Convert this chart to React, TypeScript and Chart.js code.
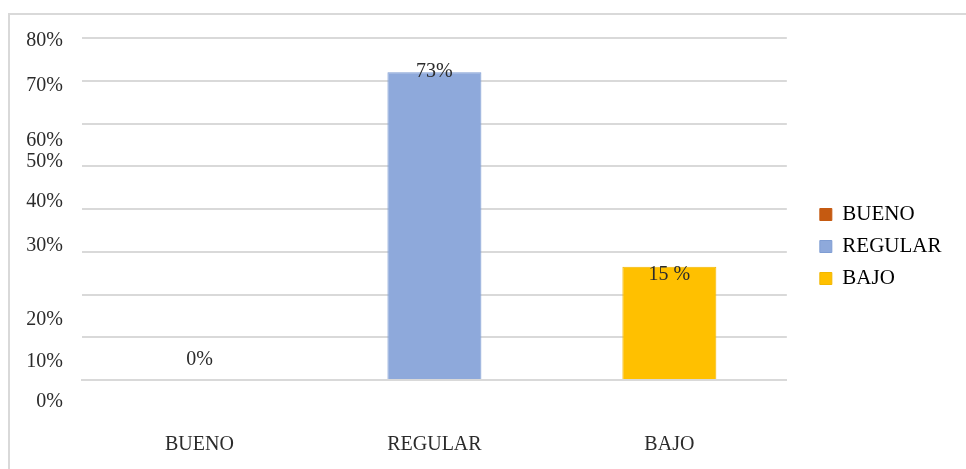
import React, { useEffect, useRef } from "react";
import { Chart, registerables } from "chart.js";

Chart.register(...registerables);

// ---- data ----
const categories = ["BUENO", "REGULAR", "BAJO"];
const values = [0, 72, 26.5];
const valueLabels = ["0%", "73%", "15 %"];
const yTickLabels = ["80%", "70%", "60%", "50%", "40%", "30%", "20%", "10%", "0%"];
const yAxisMin = 0;
const yAxisMax = 80;
const yAxisStep = 10;

// ---- styling / layout ----
const yTickLabelAnchors = [79.3, 68.8, 55.9, 51.0, 41.6, 31.3, 14.0, 4.2, -5.1];
const valueLabelOffsets = [-20, 0, 8];
const barColors = ["#C55A11", "#8EA9DB", "#FFC000"];
const barBorders = ["#C55A11", "#7F9DD3", "#F2B700"];
const FONT = "'Times New Roman', 'Liberation Serif', serif";
const TEXT = "#2b2b2b";
const GRID = "#d9d9d9";

const decorPlugin = {
  id: "decor",
  beforeDraw(chart: any) {
    const ctx = chart.ctx;
    ctx.save();
    ctx.fillStyle = "#ffffff";
    ctx.fillRect(0, 0, chart.width, chart.height);
    ctx.strokeStyle = GRID;
    ctx.lineWidth = 2;
    ctx.beginPath();
    ctx.moveTo(9, chart.height);
    ctx.lineTo(9, 14);
    ctx.lineTo(chart.width, 14);
    ctx.stroke();
    ctx.restore();
  },
  afterDraw(chart: any) {
    const ctx = chart.ctx;
    const ys = chart.scales.y;
    ctx.save();
    ctx.font = `20px ${FONT}`;
    ctx.fillStyle = TEXT;
    ctx.textAlign = "right";
    ctx.textBaseline = "middle";
    yTickLabels.forEach((t, i) => {
      ctx.fillText(t, chart.chartArea.left - 19, ys.getPixelForValue(yTickLabelAnchors[i]));
    });
    ctx.textAlign = "center";
    const meta = chart.getDatasetMeta(0);
    meta.data.forEach((bar: any, i: number) => {
      ctx.fillText(valueLabels[i], bar.x, bar.y + valueLabelOffsets[i]);
    });
    ctx.restore();
  },
};

export default function App() {
  const ref = useRef<HTMLCanvasElement | null>(null);
  useEffect(() => {
    if (!ref.current) return;
    const chart = new Chart(ref.current, {
      type: "bar",
      data: {
        labels: categories,
        datasets: [
          {
            label: "Nivel",
            data: values,
            backgroundColor: barColors,
            borderColor: barBorders,
            borderWidth: 1,
            categoryPercentage: 1,
            barPercentage: 0.4,
          },
        ],
      },
      options: {
        responsive: false,
        animation: false,
        layout: { padding: { left: 82, top: 38, right: 14.5, bottom: 14 } },
        plugins: {
          tooltip: { enabled: false },
          legend: {
            position: "right",
            labels: {
              font: { family: FONT, size: 21 },
              color: TEXT,
              boxWidth: 12,
              boxHeight: 12,
              padding: 11,
              generateLabels: () =>
                categories.map((c, i) => ({
                  text: c,
                  fillStyle: barColors[i],
                  strokeStyle: barBorders[i],
                  lineWidth: 1,
                  hidden: false,
                  index: i,
                  datasetIndex: 0,
                })),
            },
          },
        },
        scales: {
          x: {
            grid: { display: false, drawTicks: false },
            border: { display: true, color: GRID, width: 2 },
            ticks: { font: { family: FONT, size: 20 }, color: TEXT, padding: 53 },
            afterFit: (s: any) => {
              s.height = 75;
            },
          },
          y: {
            min: yAxisMin,
            max: yAxisMax,
            ticks: { stepSize: yAxisStep, display: false },
            grid: { color: GRID, lineWidth: 2, drawTicks: false },
            border: { display: false },
            afterFit: (s: any) => {
              s.width = 0;
            },
          },
          yR: {
            position: "right",
            display: true,
            grid: { display: false, drawTicks: false },
            ticks: { display: false },
            border: { display: false },
            afterFit: (s: any) => {
              s.width = 22;
            },
          },
        },
      } as any,
      plugins: [decorPlugin],
    });
    return () => chart.destroy();
  }, []);
  return (
    <div style={{ position: "fixed", left: 0, top: 0, width: 966, height: 469, background: "#fff" }}>
      <canvas ref={ref} width={966} height={469} />
    </div>
  );
}
